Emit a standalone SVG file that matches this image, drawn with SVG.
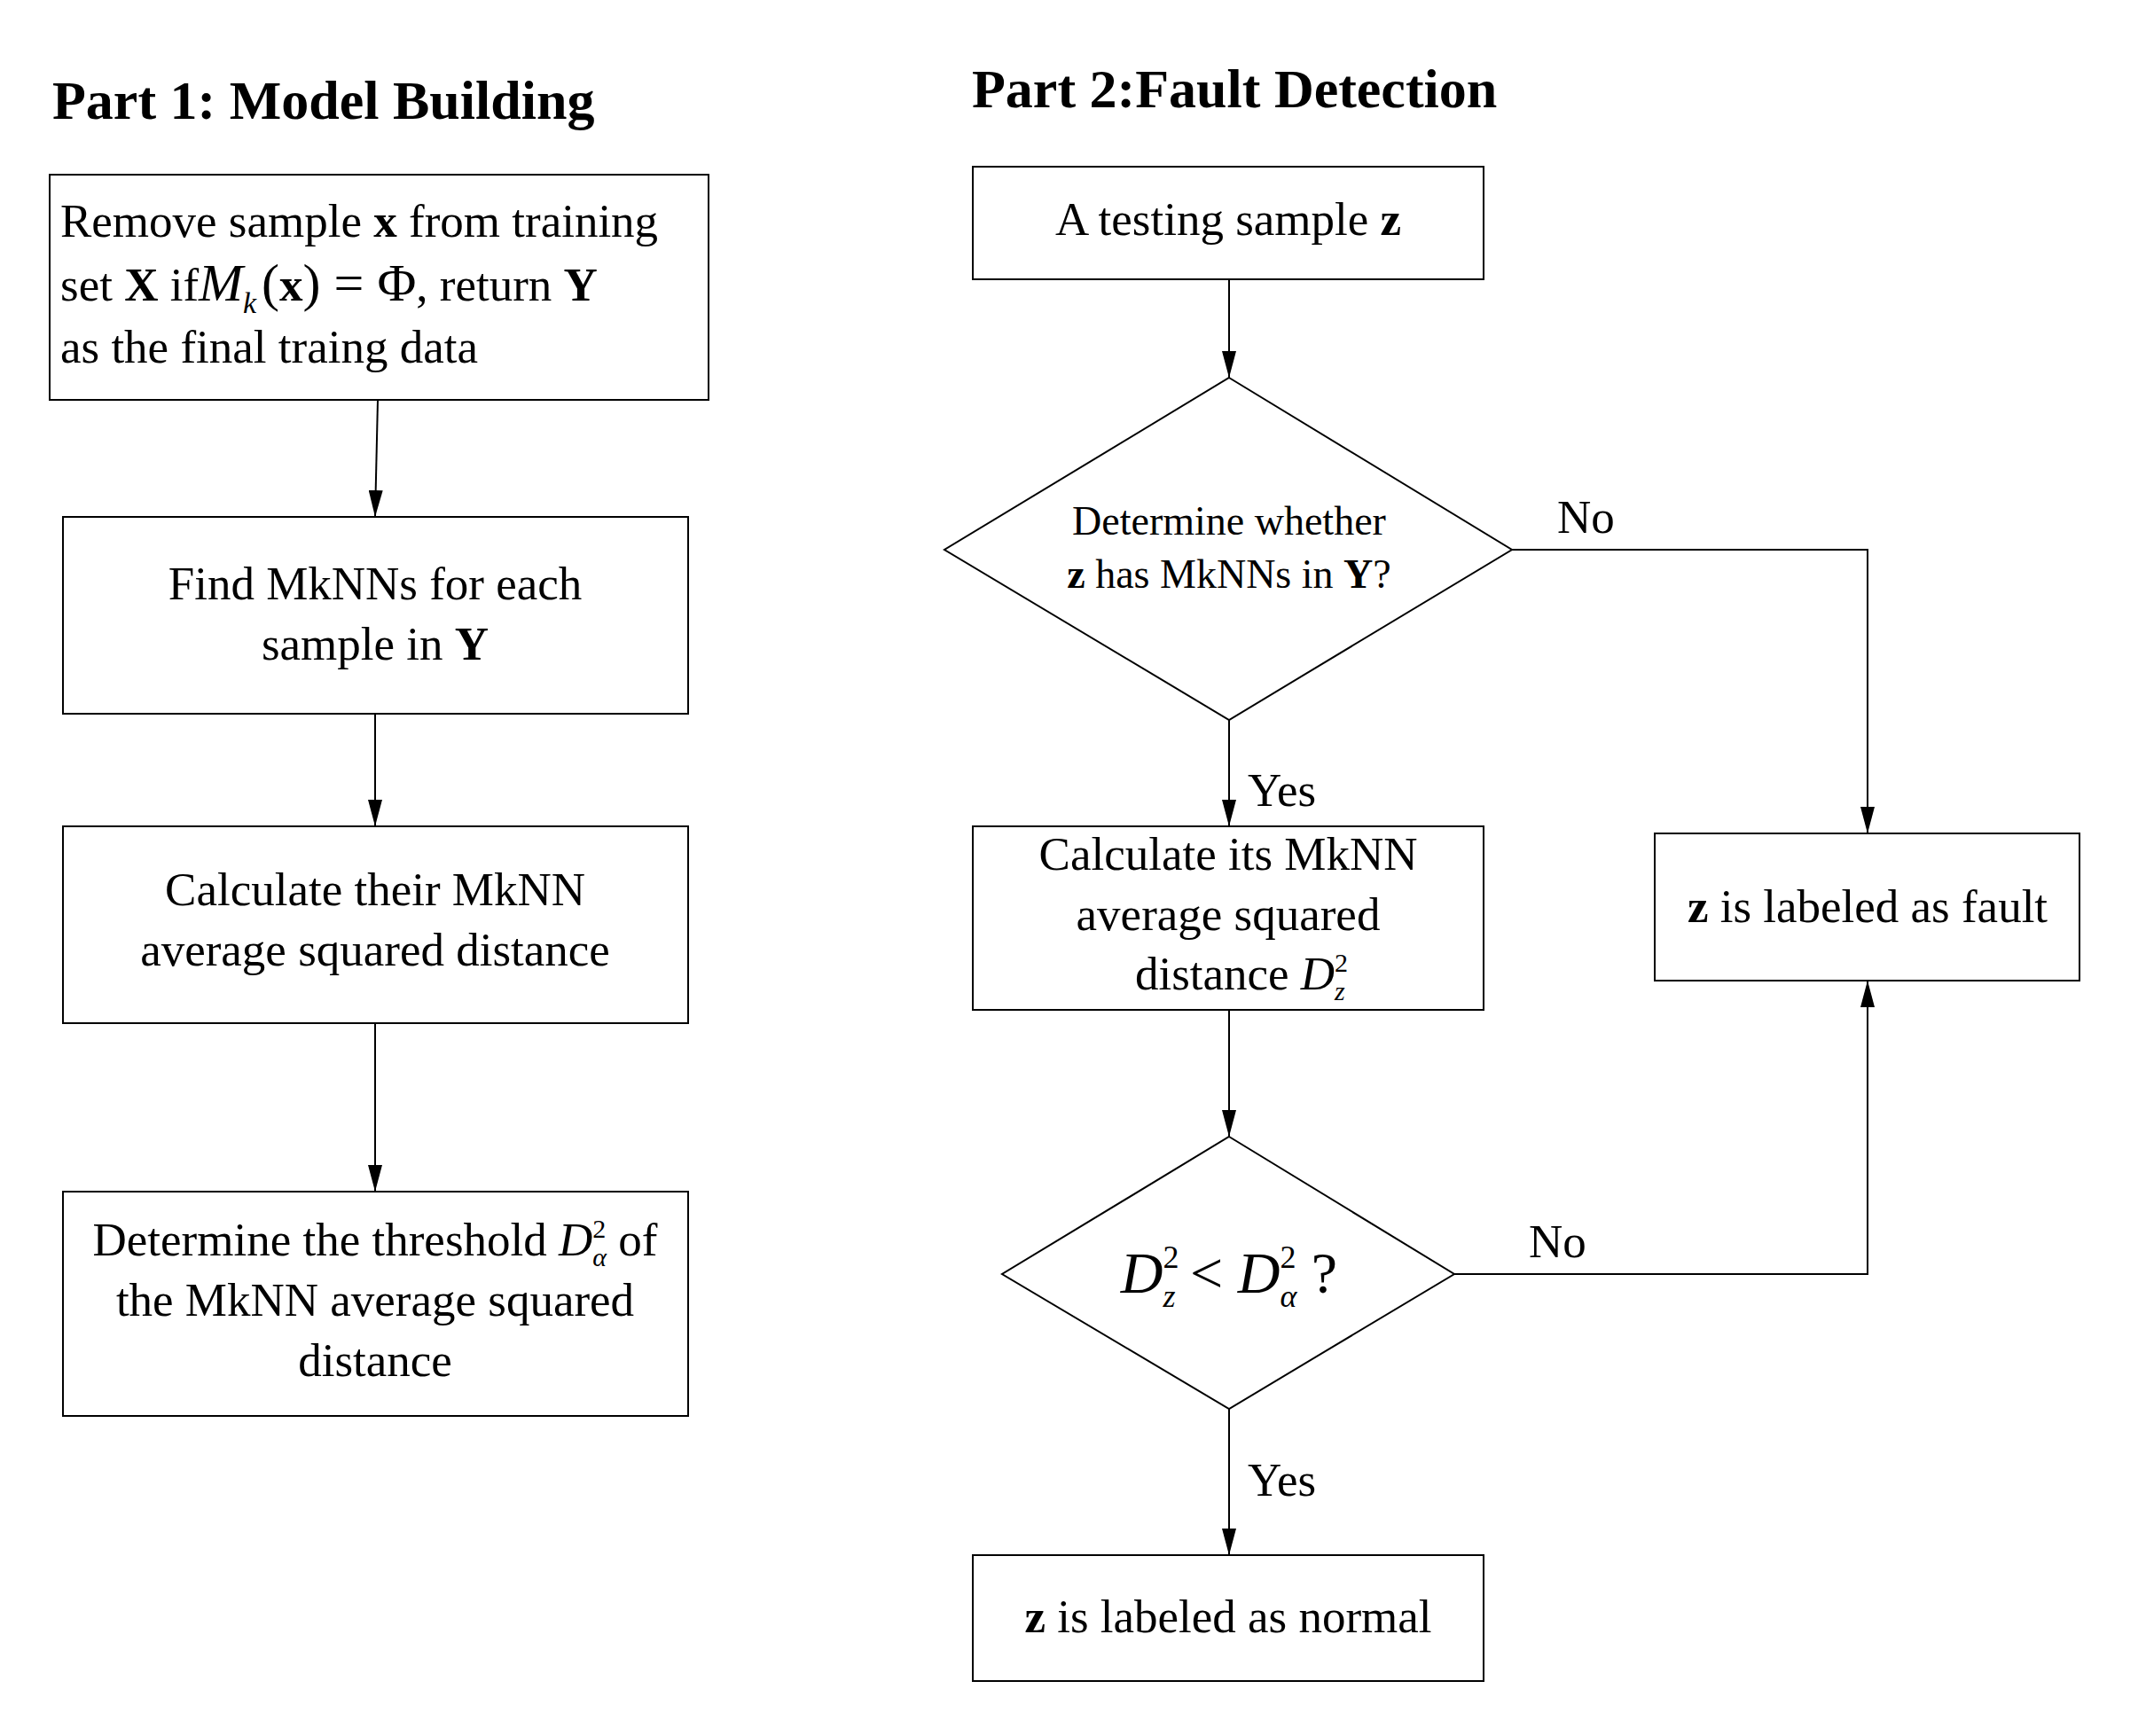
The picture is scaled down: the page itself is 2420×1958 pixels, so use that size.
<svg xmlns="http://www.w3.org/2000/svg" width="2420" height="1958" viewBox="0 0 2420 1958">
<style>
text{font-family:"Liberation Serif","Times New Roman",serif;fill:#000}
.t{font-size:62px;font-weight:bold}
.b{font-size:53px}
.s{font-size:46px}
.m{text-anchor:middle}
.n{fill:#fff;stroke:#000;stroke-width:2}
.c{fill:none;stroke:#000;stroke-width:2}
</style>
<defs><marker id="a" markerWidth="30" markerHeight="16" refX="30" refY="8" viewBox="0 0 30 16" orient="auto" markerUnits="userSpaceOnUse"><path d="M0,0 L30,8 L0,16 Z" fill="#000"/></marker></defs>
<rect width="2420" height="1958" fill="#fff"/>
<text class="t" x="59" y="134">Part 1: Model Building</text>
<text class="t" x="1096" y="121">Part 2:Fault Detection</text>
<g id="connectors">
<path class="c" d="M426,451 L423,583" marker-end="url(#a)"/>
<path class="c" d="M423,805 L423,932" marker-end="url(#a)"/>
<path class="c" d="M423,1154 L423,1344" marker-end="url(#a)"/>
<path class="c" d="M1386,315 L1386,426" marker-end="url(#a)"/>
<path class="c" d="M1386,812 L1386,932" marker-end="url(#a)"/>
<path class="c" d="M1705,620 L2106,620 L2106,940" marker-end="url(#a)"/>
<path class="c" d="M1386,1139 L1386,1282" marker-end="url(#a)"/>
<path class="c" d="M1640,1437 L2106,1437 L2106,1106" marker-end="url(#a)"/>
<path class="c" d="M1386,1589 L1386,1754" marker-end="url(#a)"/>
<text class="b" x="1756" y="601">No</text>
<text class="b" x="1724" y="1418">No</text>
<text class="b" x="1407" y="909">Yes</text>
<text class="b" x="1407" y="1687">Yes</text>
</g>
<g id="n1"><rect class="n" x="56" y="197" width="743" height="254"/>
<text class="b" x="68" y="267">Remove sample <tspan font-weight="bold">x</tspan> from training</text>
<text class="b" x="68" y="339">set <tspan font-weight="bold">X</tspan> if<tspan font-style="italic" font-size="60">M</tspan><tspan font-style="italic" font-size="34" dy="14">k</tspan><tspan font-size="60" dy="-14" dx="6">(</tspan><tspan font-weight="bold">x</tspan><tspan font-size="60">) = Φ</tspan>,   return <tspan font-weight="bold">Y</tspan></text>
<text class="b" x="68" y="409">as the final traing data</text></g>
<g id="n2"><rect class="n" x="71" y="583" width="705" height="222"/>
<text class="b m" x="423" y="676">Find MkNNs for each</text>
<text class="b m" x="423" y="744">sample in <tspan font-weight="bold">Y</tspan></text></g>
<g id="n3"><rect class="n" x="71" y="932" width="705" height="222"/>
<text class="b m" x="423" y="1021">Calculate their MkNN</text>
<text class="b m" x="423" y="1089">average squared distance</text></g>
<g id="n4"><rect class="n" x="71" y="1344" width="705" height="253"/>
<text class="b m" x="423" y="1416">Determine the threshold <tspan font-style="italic">D</tspan><tspan font-size="30" dy="-20">2</tspan><tspan font-size="30" font-style="italic" dx="-15" dy="32">α</tspan><tspan dy="-12"> of</tspan></text>
<text class="b m" x="423" y="1484">the MkNN average squared</text>
<text class="b m" x="423" y="1552">distance</text></g>
<g id="r1"><rect class="n" x="1097" y="188" width="576" height="127"/>
<text class="b m" x="1385" y="265">A testing sample <tspan font-weight="bold">z</tspan></text></g>
<g id="d1"><polygon class="n" points="1386,426 1705,620 1386,812 1065,620"/>
<text class="s m" x="1386" y="603">Determine whether</text>
<text class="s m" x="1386" y="663"><tspan font-weight="bold">z</tspan> has MkNNs in  <tspan font-weight="bold">Y</tspan>?</text></g>
<g id="r2"><rect class="n" x="1097" y="932" width="576" height="207"/>
<text class="b m" x="1385" y="981">Calculate its MkNN</text>
<text class="b m" x="1385" y="1049">average squared</text>
<text class="b m" x="1400" y="1116">distance <tspan font-style="italic">D</tspan><tspan font-size="30" dy="-20">2</tspan><tspan font-size="30" font-style="italic" dx="-15" dy="32">z</tspan></text></g>
<g id="r3"><rect class="n" x="1866" y="940" width="479" height="166"/>
<text class="b m" x="2106" y="1040"><tspan font-weight="bold">z</tspan> is labeled as fault</text></g>
<g id="d2"><polygon class="n" points="1386,1282 1640,1437 1386,1589 1130,1437"/>
<text x="1386" y="1458" class="m" font-size="66"><tspan font-style="italic">D</tspan><tspan font-size="36" dy="-28">2</tspan><tspan font-size="36" font-style="italic" dx="-18" dy="44">z</tspan><tspan dy="-16"> &lt; </tspan><tspan font-style="italic">D</tspan><tspan font-size="36" dy="-28">2</tspan><tspan font-size="36" font-style="italic" dx="-18" dy="44">α</tspan><tspan dy="-16"> ?</tspan></text></g>
<g id="r4"><rect class="n" x="1097" y="1754" width="576" height="142"/>
<text class="b m" x="1385" y="1841"><tspan font-weight="bold">z</tspan> is labeled as normal</text></g>
</svg>
